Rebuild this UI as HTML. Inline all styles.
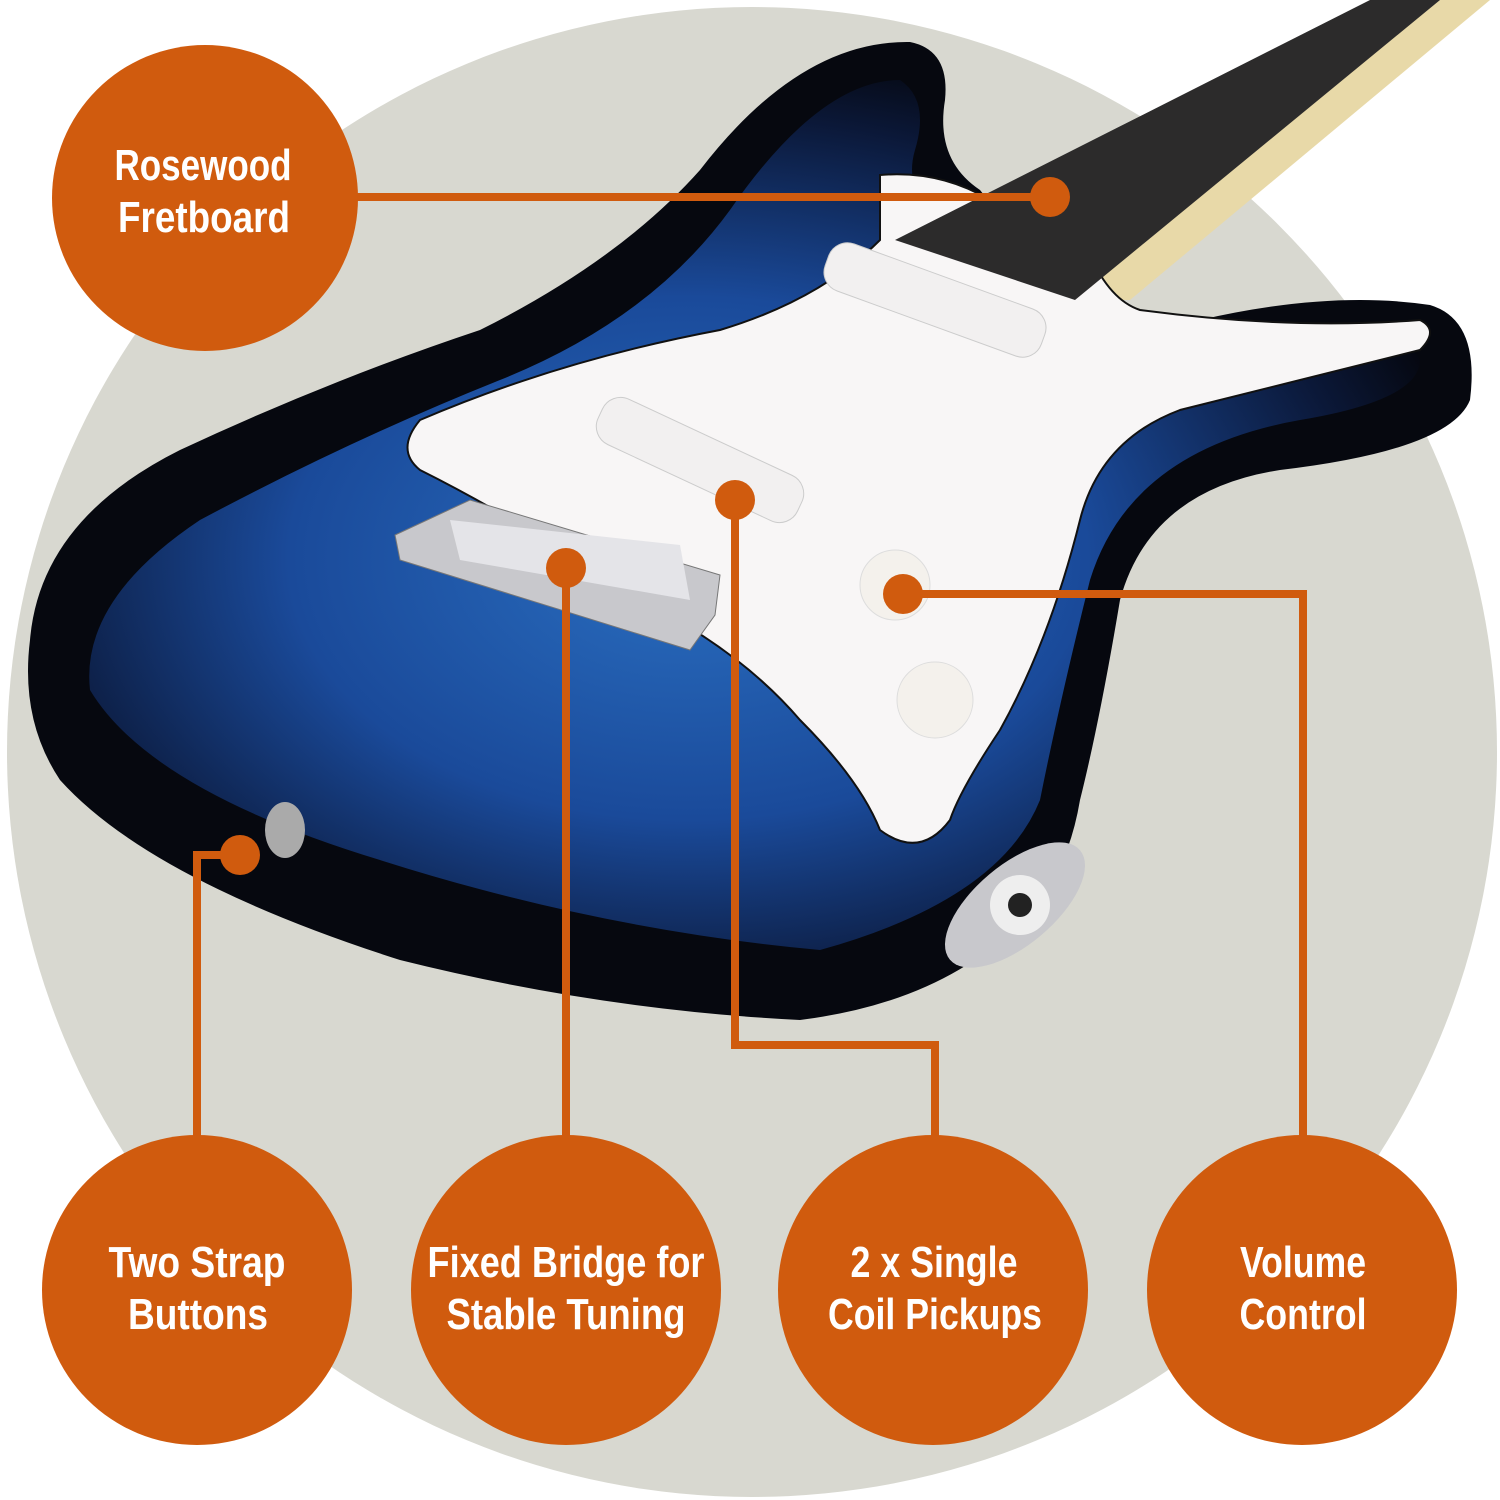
<!DOCTYPE html>
<html><head><meta charset="utf-8"><style>
html,body{margin:0;padding:0;background:#fff;}
svg{display:block}
text{font-family:"Liberation Sans",sans-serif;font-weight:bold;fill:#fff;font-size:44px;text-anchor:middle}
</style></head><body>
<svg width="1500" height="1500" viewBox="0 0 1500 1500" xmlns="http://www.w3.org/2000/svg">
<defs>
<radialGradient id="blue" cx="0.45" cy="0.55" r="0.6">
<stop offset="0" stop-color="#2a6ec0"/>
<stop offset="0.5" stop-color="#1a4a9a"/>
<stop offset="0.85" stop-color="#0b1838"/>
<stop offset="1" stop-color="#05070f"/>
</radialGradient>
</defs>
<rect width="1500" height="1500" fill="#fff"/>
<ellipse cx="752" cy="752" rx="745" ry="745" fill="#d8d8d0"/>
<path d="M1000 190 L1440 0 L1490 0 L1130 300 L1090 300 Z" fill="#e8d9a8"/>
<path d="M910 42 Q950 50 945 100 Q935 160 980 190 L1020 240 L1100 300 Q1150 320 1200 320 Q1330 290 1430 305 Q1480 320 1470 400 Q1450 450 1280 470 Q1150 490 1120 600 Q1100 720 1080 800 Q1070 860 1040 900 Q960 1000 800 1020 Q600 1010 400 960 Q150 880 60 780 Q20 720 30 640 Q40 520 180 450 Q330 380 480 330 Q620 260 700 170 Q800 40 910 42 Z" fill="#06080f"/>
<path d="M900 80 Q930 100 915 150 Q900 200 960 240 L1050 290 Q1150 340 1260 330 Q1400 320 1420 360 Q1420 400 1300 420 Q1130 450 1090 580 Q1060 700 1040 800 Q1000 900 820 950 Q600 930 380 860 Q150 790 90 690 Q80 600 200 520 Q350 440 500 380 Q650 320 730 210 Q820 80 900 80 Z" fill="url(#blue)"/>
<path d="M880 175 Q940 170 990 200 L1090 255 Q1110 300 1140 310 Q1290 330 1420 320 Q1440 330 1420 350 Q1300 380 1180 410 Q1100 440 1080 520 Q1050 640 1000 730 Q960 790 950 820 Q920 860 880 830 Q860 780 800 720 Q740 650 640 600 Q520 520 420 470 Q395 450 420 420 Q560 360 720 330 Q820 300 880 240 Z" fill="#f8f6f6" stroke="#111" stroke-width="2"/>
<path d="M895 240 L1370 0 L1440 0 L1075 300 Z" fill="#2c2b2b"/>
<rect x="820" y="275" width="230" height="50" rx="20" fill="#f2f0f0" stroke="#ccc" transform="rotate(20 935 300)"/>
<rect x="590" y="435" width="220" height="50" rx="20" fill="#f2f0f0" stroke="#ccc" transform="rotate(25 700 460)"/>
<path d="M395 535 L470 500 L720 575 L715 615 L690 650 L400 560 Z" fill="#c8c8cc" stroke="#777"/>
<path d="M450 520 L680 545 L690 600 L460 560 Z" fill="#e4e4e8"/>
<circle cx="895" cy="585" r="35" fill="#f4f1ec" stroke="#ddd"/>
<circle cx="935" cy="700" r="38" fill="#f4f1ec" stroke="#ddd"/>
<ellipse cx="1015" cy="905" rx="85" ry="40" fill="#c8c8cc" transform="rotate(-40 1015 905)"/>
<circle cx="1020" cy="905" r="30" fill="#eee"/><circle cx="1020" cy="905" r="12" fill="#222"/>
<ellipse cx="285" cy="830" rx="20" ry="28" fill="#aaa"/>
<g stroke="#d05b0e" stroke-width="8" fill="none">
<path d="M355 197 H1050"/>
<path d="M240 855 H197 V1140"/>
<path d="M566 568 V1140"/>
<path d="M735 500 V1045 H935 V1140"/>
<path d="M903 594 H1303 V1140"/>
</g>
<g fill="#d05b0e">
<circle cx="1050" cy="197" r="20"/>
<circle cx="240" cy="855" r="20"/>
<circle cx="566" cy="568" r="20"/>
<circle cx="735" cy="500" r="20"/>
<circle cx="903" cy="594" r="20"/>
<circle cx="205" cy="198" r="153"/>
<circle cx="197" cy="1290" r="155"/>
<circle cx="566" cy="1290" r="155"/>
<circle cx="933" cy="1290" r="155"/>
<circle cx="1302" cy="1290" r="155"/>
</g>
<text x="203" y="180" textLength="177" lengthAdjust="spacingAndGlyphs">Rosewood</text>
<text x="204" y="232" textLength="172" lengthAdjust="spacingAndGlyphs">Fretboard</text>
<text x="197" y="1277" textLength="177" lengthAdjust="spacingAndGlyphs">Two Strap</text>
<text x="198" y="1329" textLength="140" lengthAdjust="spacingAndGlyphs">Buttons</text>
<text x="566" y="1277" textLength="277" lengthAdjust="spacingAndGlyphs">Fixed Bridge for</text>
<text x="566" y="1329" textLength="239" lengthAdjust="spacingAndGlyphs">Stable Tuning</text>
<text x="934" y="1277" textLength="167" lengthAdjust="spacingAndGlyphs">2 x Single</text>
<text x="935" y="1329" textLength="214" lengthAdjust="spacingAndGlyphs">Coil Pickups</text>
<text x="1303" y="1277" textLength="126" lengthAdjust="spacingAndGlyphs">Volume</text>
<text x="1303" y="1329" textLength="127" lengthAdjust="spacingAndGlyphs">Control</text>
</svg>
</body></html>
